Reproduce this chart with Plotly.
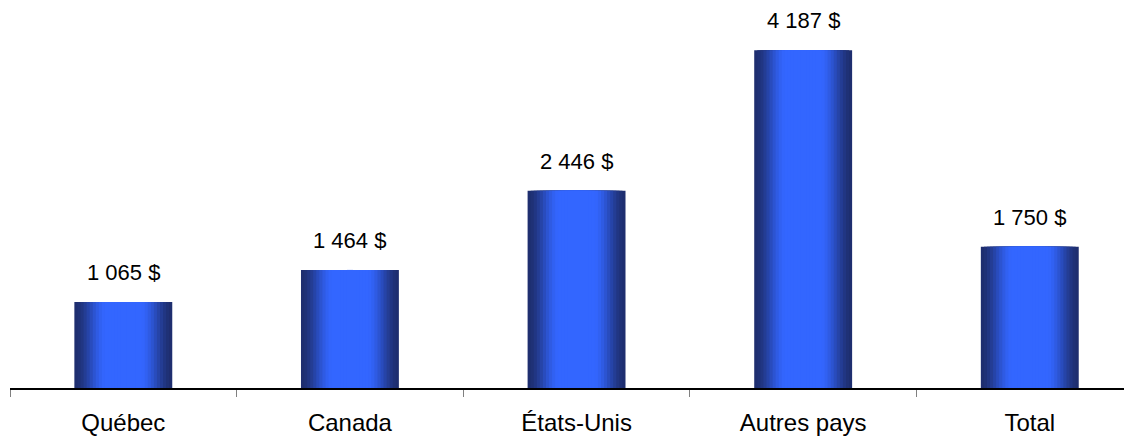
import plotly.graph_objects as go

categories = ["Québec", "Canada", "États-Unis", "Autres pays", "Total"]
values = [1065, 1464, 2446, 4187, 1750]
labels = ["1 065 $", "1 464 $", "2 446 $", "4 187 $", "1 750 $"]

BAR_W = 0.432
N_LAYERS = 16
DARK = (30, 46, 110)
BRIGHT = (51, 102, 255)


def shade(t):
    # t: 0 at centre, 1 at edge
    if t <= 0.35:
        f = 1.0
    else:
        u = (t - 0.35) / 0.65
        f = 1 - (3 * u * u - 2 * u * u * u)
    c = [round(DARK[i] + (BRIGHT[i] - DARK[i]) * f) for i in range(3)]
    return f"rgb({c[0]},{c[1]},{c[2]})"


fig = go.Figure()
for k in range(N_LAYERS):
    t = 1 - k / N_LAYERS
    fig.add_trace(go.Bar(
        x=categories, y=values,
        width=[BAR_W * t] * len(categories),
        marker=dict(color=shade(t - 0.5 / N_LAYERS), line=dict(width=0)),
        hoverinfo="skip", showlegend=False,
    ))

for c, v, lab in zip(categories, values, labels):
    fig.add_annotation(x=c, y=v, text=lab, showarrow=False, yanchor="bottom",
                       yshift=15, font=dict(family="Liberation Sans", size=22, color="black"))

fig.update_layout(
    width=1124, height=428,
    margin=dict(l=2, r=0, t=17, b=40),
    barmode="overlay",
    plot_bgcolor="white", paper_bgcolor="white",
    font=dict(family="Liberation Sans", size=24, color="black"),
    xaxis=dict(
        range=[-0.5, 4.451], showgrid=False, zeroline=False,
        showline=True, linecolor="black", linewidth=1.5,
        ticks="outside", tickson="boundaries", ticklen=7, tickcolor="#808080", tickwidth=1,
        ticklabelstandoff=12,
        tickfont=dict(family="Liberation Sans", size=24, color="black"),
    ),
    yaxis=dict(range=[0, 4500], visible=False, showgrid=False, zeroline=False),
)

fig.write_html("out.html")
